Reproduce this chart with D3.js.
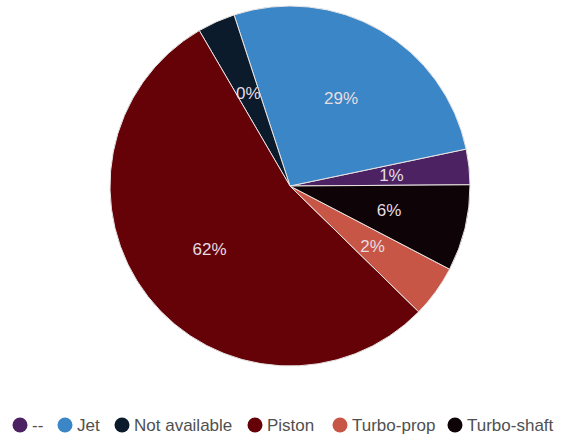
<!DOCTYPE html>
<html>
<head>
<meta charset="utf-8">
<script src="https://cdn.jsdelivr.net/npm/d3@7"></script>
<style>
  html, body { margin: 0; padding: 0; background: #ffffff; }
  svg { display: block; font-family: "Liberation Sans", Arial, Helvetica, sans-serif; }
</style>
</head>
<body>
<svg id="chart" width="567" height="440"></svg>
<script>
// Legend order categories
const categories = ["--", "Jet", "Not available", "Piston", "Turbo-prop", "Turbo-shaft"];
// Slice sizes as drawn (estimated share of the circle, %)
const values = [3.2, 26.9, 3.4, 54.6, 4.7, 7.8];
// Percent labels printed on the slices
const pctLabels = ["1%", "29%", "0%", "62%", "2%", "6%"];
// Order in which the slices run clockwise from the Jet slice
const sliceOrder = ["Jet", "--", "Turbo-shaft", "Turbo-prop", "Piston", "Not available"];
const colors = ["#4d2263", "#3b86c6", "#0b1b2b", "#640208", "#c85646", "#0e0306"];

const data = categories.map((c, i) => ({ cat: c, value: values[i], label: pctLabels[i], color: colors[i] }));

const svg = d3.select("#chart");
const cx = 290, cy = 186, R = 180, labelR = 102;
const startAngle = -18.1 * Math.PI / 180;

const pie = d3.pie()
  .value(d => d.value)
  .sort((a, b) => sliceOrder.indexOf(a.cat) - sliceOrder.indexOf(b.cat))
  .startAngle(startAngle)
  .endAngle(startAngle + 2 * Math.PI);

const arcs = pie(data);
const arc = d3.arc().innerRadius(0).outerRadius(R);
const labelArc = d3.arc().innerRadius(labelR).outerRadius(labelR);

const g = svg.append("g").attr("transform", `translate(${cx},${cy})`);

g.selectAll("path.slice")
  .data(arcs)
  .join("path")
  .attr("class", "slice")
  .attr("d", arc)
  .attr("fill", d => d.data.color)
  .attr("stroke", "#e8e4e4")
  .attr("stroke-width", 1);

const lbl = g.append("g").attr("class", "labels");
arcs.forEach(d => {
  const c = labelArc.centroid(d);
  lbl.append("text")
    .attr("x", c[0])
    .attr("y", c[1])
    .attr("text-anchor", "middle")
    .attr("dy", "0.35em")
    .attr("font-size", 17)
    .attr("fill", "#e6dde2")
    .text(d.data.label);
});

// Legend
const legend = svg.append("g").attr("transform", "translate(0,425)");
const legendPos = [20, 65, 122, 255, 340, 455];
const items = legend.selectAll("g.item")
  .data(data)
  .join("g")
  .attr("class", "item")
  .attr("transform", (d, i) => `translate(${legendPos[i]},0)`);
items.append("circle")
  .attr("r", 7.5)
  .attr("fill", d => d.color);
items.append("text")
  .attr("x", 12)
  .attr("dy", "0.35em")
  .attr("font-size", 17)
  .attr("fill", "#505050")
  .text(d => d.cat);
</script>
</body>
</html>
